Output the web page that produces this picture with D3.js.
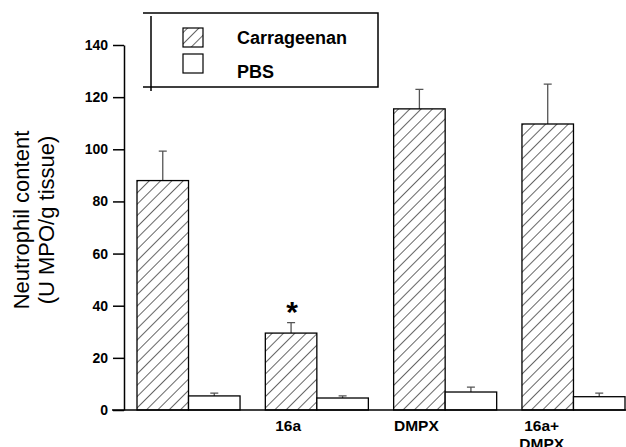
<!DOCTYPE html>
<html>
<head>
<meta charset="utf-8">
<script src="https://cdn.jsdelivr.net/npm/d3@7"></script>
<style>
    body { margin: 0; background: #fff; }
    svg { display: block; font-family: "Liberation Sans", Arial, sans-serif; }
</style>
</head>
<body>
<div id="chart"></div>
<script>
// data
const groups = ['', '16a', 'DMPX', '16a+\nDMPX'];
const series = ['Carrageenan', 'PBS'];
const carrageenan = [88, 29.5, 115.5, 109.7];
const carrageenanErr = [11.3, 4, 7.5, 15.3];
const pbs = [5.4, 4.6, 6.9, 5.1];
const pbsErr = [1.1, 0.8, 1.9, 1.4];
const yTicks = [0, 20, 40, 60, 80, 100, 120, 140];
const starred = [1];

const width = 626;
const height = 447;

let svg = d3.select('#chart')
    .append('svg')
    .attr('width', width)
    .attr('height', height);

let defs = svg.append('defs');
let hatch = defs.append('pattern')
    .attr('id', 'hatch')
    .attr('patternUnits', 'userSpaceOnUse')
    .attr('width', 8)
    .attr('height', 8)
    .attr('patternTransform', 'rotate(45)');
hatch.append('rect').attr('width', 8).attr('height', 8).attr('fill', '#fff');
hatch.append('line')
    .attr('x1', 0).attr('y1', 0).attr('x2', 0).attr('y2', 8)
    .attr('stroke', '#000')
    .attr('stroke-width', 1.2);

let x = d3.scaleBand()
    .domain(groups)
    .range([137, 625])
    .paddingInner(0.197)
    .paddingOuter(0);
let xs = d3.scaleBand()
    .domain(series)
    .range([0, x.bandwidth()]);
let y = d3.scaleLinear()
    .domain([0, 140])
    .range([410, 45]);

// y axis
let yAxis = svg.append('g')
    .attr('transform', 'translate(124,0)')
    .call(d3.axisLeft(y)
        .tickValues(yTicks)
        .tickSize(11)
        .tickSizeOuter(0)
        .tickPadding(5));
yAxis.select('.domain').attr('stroke-width', 1.5);
yAxis.selectAll('.tick line').attr('stroke-width', 1.5);
yAxis.selectAll('.tick text')
    .attr('font-size', 14)
    .attr('font-weight', 'bold')
    .attr('font-family', '"Liberation Sans", Arial, sans-serif')
    .attr('fill', '#000');

svg.append('g')
    .attr('transform', 'translate(21,220) rotate(-90)')
    .selectAll('text')
    .data(['Neutrophil content', '(U MPO/g tissue)'])
    .enter().append('text')
    .attr('x', 0)
    .attr('y', (d, i) => 8 + i * 25)
    .attr('text-anchor', 'middle')
    .attr('font-size', 22)
    .text(d => d);

// bars
let rows = groups.map((g, i) => [
    { group: g, key: 'Carrageenan', value: carrageenan[i], err: carrageenanErr[i] },
    { group: g, key: 'PBS', value: pbs[i], err: pbsErr[i] }
]);
let bars = svg.selectAll('.group')
    .data(rows)
    .enter().append('g')
    .attr('class', 'group')
    .attr('transform', d => `translate(${x(d[0].group)},0)`);

bars.selectAll('.err')
    .data(d => d)
    .enter().append('path')
    .attr('class', 'err')
    .attr('d', d => {
        let cx = xs(d.key) + xs.bandwidth() / 2;
        return `M${cx},${y(d.value)}V${y(d.value + d.err)}M${cx - 4},${y(d.value + d.err)}H${cx + 4}`;
    })
    .attr('fill', 'none')
    .attr('stroke', '#555')
    .attr('stroke-width', 1.3);

bars.selectAll('.bar')
    .data(d => d)
    .enter().append('rect')
    .attr('class', 'bar')
    .attr('x', d => xs(d.key))
    .attr('y', d => y(d.value))
    .attr('width', xs.bandwidth())
    .attr('height', d => y(0) - y(d.value))
    .attr('fill', d => d.key === 'Carrageenan' ? 'url(#hatch)' : '#fff')
    .attr('stroke', '#000')
    .attr('stroke-width', 1.3);

// significance mark
svg.selectAll('.star')
    .data(starred)
    .enter().append('text')
    .attr('class', 'star')
    .attr('x', i => x(groups[i]) + xs.bandwidth() / 2 + 1)
    .attr('y', i => y(carrageenan[i] + carrageenanErr[i]) - 1)
    .attr('text-anchor', 'middle')
    .attr('font-size', 30)
    .attr('font-weight', 'bold')
    .text('*');

// x axis
svg.append('line')
    .attr('x1', 112).attr('x2', width)
    .attr('y1', y(0)).attr('y2', y(0))
    .attr('stroke', '#000')
    .attr('stroke-width', 1.5);

svg.selectAll('.xlabel')
    .data(groups)
    .enter().append('text')
    .attr('class', 'xlabel')
    .attr('x', d => x(d) + xs.bandwidth() / 2 - (d.includes('\n') ? 6 : 3))
    .attr('y', 431)
    .attr('text-anchor', 'middle')
    .attr('font-size', 15.5)
    .attr('font-weight', 'bold')
    .selectAll('tspan')
    .data(d => d.split('\n'))
    .enter().append('tspan')
    .attr('x', function () { return d3.select(this.parentNode).attr('x'); })
    .attr('dy', (d, i) => i === 0 ? 0 : 18)
    .text(d => d);

// legend box, drawn as four lines the way the original has them
let legend = svg.append('g').attr('class', 'legend');
legend.append('path')
    .attr('d', 'M143,13H378V87H143M151,16V91')
    .attr('fill', 'none')
    .attr('stroke', '#000')
    .attr('stroke-width', 1.5);

let items = legend.selectAll('.item')
    .data(series)
    .enter().append('g')
    .attr('class', 'item');
items.append('rect')
    .attr('x', 183)
    .attr('y', (d, i) => 28 + i * 26)
    .attr('width', 20)
    .attr('height', 19)
    .attr('fill', d => d === 'Carrageenan' ? 'url(#hatch)' : '#fff')
    .attr('stroke', '#000')
    .attr('stroke-width', 1.2);
items.append('text')
    .attr('x', 237)
    .attr('y', (d, i) => 44 + i * 34)
    .attr('font-size', 18)
    .attr('font-weight', 'bold')
    .text(d => d);
</script>
</body>
</html>
